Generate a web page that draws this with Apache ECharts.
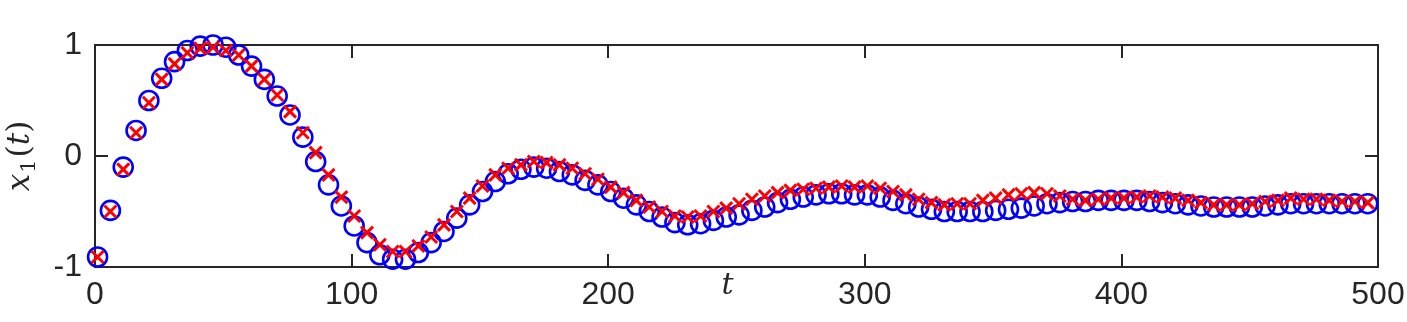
<!DOCTYPE html>
<html>
<head>
<meta charset="utf-8">
<script src="https://cdn.jsdelivr.net/npm/echarts@6/dist/echarts.min.js"></script>
<style>
  html, body { margin: 0; padding: 0; background: #fff; }
  #chart { width: 1407px; height: 322px; }
</style>
</head>
<body>
<div id="chart"></div>
<script>
// sample times (every 5 units)
const tValues = []
for (let t = 1; t <= 496; t += 5) tValues.push(t)

// blue circles
const circleValues = [
  -0.91, -0.49, -0.10, 0.23, 0.50, 0.70, 0.85, 0.95, 0.99, 1.00,
  0.98, 0.91, 0.81, 0.69, 0.54, 0.37, 0.17, -0.05, -0.26, -0.45,
  -0.63, -0.78, -0.89, -0.93, -0.93, -0.87, -0.78, -0.68, -0.56, -0.44,
  -0.32, -0.23, -0.16, -0.12, -0.10, -0.11, -0.14, -0.17, -0.22, -0.26,
  -0.32, -0.38, -0.44, -0.50, -0.55, -0.60, -0.62, -0.61, -0.58, -0.55,
  -0.53, -0.49, -0.46, -0.42, -0.39, -0.37, -0.35, -0.34, -0.34, -0.35,
  -0.35, -0.37, -0.40, -0.43, -0.46, -0.48, -0.50, -0.50, -0.50, -0.50,
  -0.49, -0.48, -0.47, -0.45, -0.43, -0.42, -0.41, -0.41, -0.40, -0.40,
  -0.40, -0.40, -0.41, -0.42, -0.43, -0.44, -0.45, -0.46, -0.46, -0.46,
  -0.46, -0.45, -0.44, -0.43, -0.43, -0.43, -0.43, -0.43, -0.43, -0.43
]

// red crosses
const crossValues = [
  -0.91, -0.50, -0.12, 0.21, 0.48, 0.69, 0.83, 0.93, 0.97, 0.98,
  0.95, 0.91, 0.81, 0.69, 0.55, 0.40, 0.21, 0.03, -0.17, -0.37,
  -0.54, -0.69, -0.80, -0.86, -0.86, -0.81, -0.73, -0.62, -0.50, -0.38,
  -0.27, -0.17, -0.11, -0.08, -0.05, -0.06, -0.08, -0.11, -0.16, -0.21,
  -0.28, -0.33, -0.40, -0.46, -0.50, -0.54, -0.55, -0.54, -0.50, -0.47,
  -0.43, -0.39, -0.36, -0.33, -0.31, -0.30, -0.29, -0.28, -0.27, -0.28,
  -0.27, -0.29, -0.32, -0.35, -0.39, -0.42, -0.44, -0.43, -0.43, -0.40,
  -0.38, -0.35, -0.34, -0.33, -0.34, -0.36, -0.39, -0.40, -0.39, -0.38,
  -0.38, -0.37, -0.36, -0.37, -0.38, -0.40, -0.42, -0.44, -0.44, -0.44,
  -0.43, -0.41, -0.40, -0.38, -0.39, -0.39, -0.40, -0.41, -0.41, -0.42
]

const xTicks = [0, 100, 200, 300, 400, 500]
const yTicks = [-1, 0, 1]

const axisColor = '#262626'
const labelFont = 'Liberation Sans, Arial, sans-serif'

var myChart = echarts.init(document.getElementById('chart'))

const frameAxis = {
  axisLine: { show: true, onZero: false, lineStyle: { color: axisColor, width: 2 } },
  axisTick: { show: true, inside: true, length: 13, lineStyle: { color: axisColor, width: 2 } },
  splitLine: { show: false }
}

myChart.setOption({
  animation: false,
  grid: { left: 95, right: 29, top: 45, bottom: 55, outerBoundsMode: 'none', containLabel: false },
  xAxis: [
    {
      ...frameAxis,
      type: 'value',
      min: xTicks[0],
      max: xTicks[xTicks.length - 1],
      interval: 100,
      position: 'bottom',
      axisLabel: { color: axisColor, fontSize: 32, fontFamily: labelFont, margin: 12 },
      name: 't',
      nameLocation: 'middle',
      nameGap: 4,
      nameMoveOverlap: false,
      nameTextStyle: {
        fontFamily: 'DejaVu Serif, serif', fontStyle: 'italic', fontSize: 30,
        color: axisColor, padding: [0, 18, 0, 0]
      }
    },
    {
      ...frameAxis,
      type: 'value',
      min: 0, max: 500, interval: 100,
      position: 'top',
      axisLabel: { show: false }
    }
  ],
  yAxis: [
    {
      ...frameAxis,
      type: 'value',
      min: yTicks[0],
      max: yTicks[yTicks.length - 1],
      interval: 1,
      position: 'left',
      axisLabel: { color: axisColor, fontSize: 32, fontFamily: labelFont, margin: 13 },
      name: '{i|x}{s|1}{n|(}{i|t}{n|)}',
      nameLocation: 'middle',
      nameRotate: 90,
      nameGap: 55,
      nameMoveOverlap: false,
      nameTextStyle: {
        color: axisColor,
        rich: {
          i: { fontFamily: 'DejaVu Serif, serif', fontStyle: 'italic', fontSize: 31, color: axisColor, lineHeight: 38 },
          n: { fontFamily: 'DejaVu Serif, serif', fontSize: 31, color: axisColor, lineHeight: 38 },
          s: { fontFamily: 'DejaVu Serif, serif', fontSize: 21, color: axisColor, lineHeight: 38, verticalAlign: 'bottom', padding: [0, 2, 0, 1] }
        }
      }
    },
    {
      ...frameAxis,
      type: 'value',
      min: -1, max: 1, interval: 1,
      position: 'right',
      axisLabel: { show: false }
    }
  ],
  series: [
    {
      name: 'circles',
      type: 'scatter',
      data: tValues.map((t, i) => [t, circleValues[i]]),
      symbol: 'circle',
      symbolSize: 19,
      clip: false,
      itemStyle: { color: 'rgba(0,0,0,0)', borderColor: '#0000ff', borderWidth: 2.6, opacity: 1 }
    },
    {
      name: 'crosses',
      type: 'scatter',
      data: tValues.map((t, i) => [t, crossValues[i]]),
      symbol: 'path://M0,0L10,10M10,0L0,10',
      symbolSize: 12,
      clip: false,
      itemStyle: { color: 'none', borderColor: '#ff0000', borderWidth: 3, opacity: 1 }
    }
  ]
})
</script>
</body>
</html>
